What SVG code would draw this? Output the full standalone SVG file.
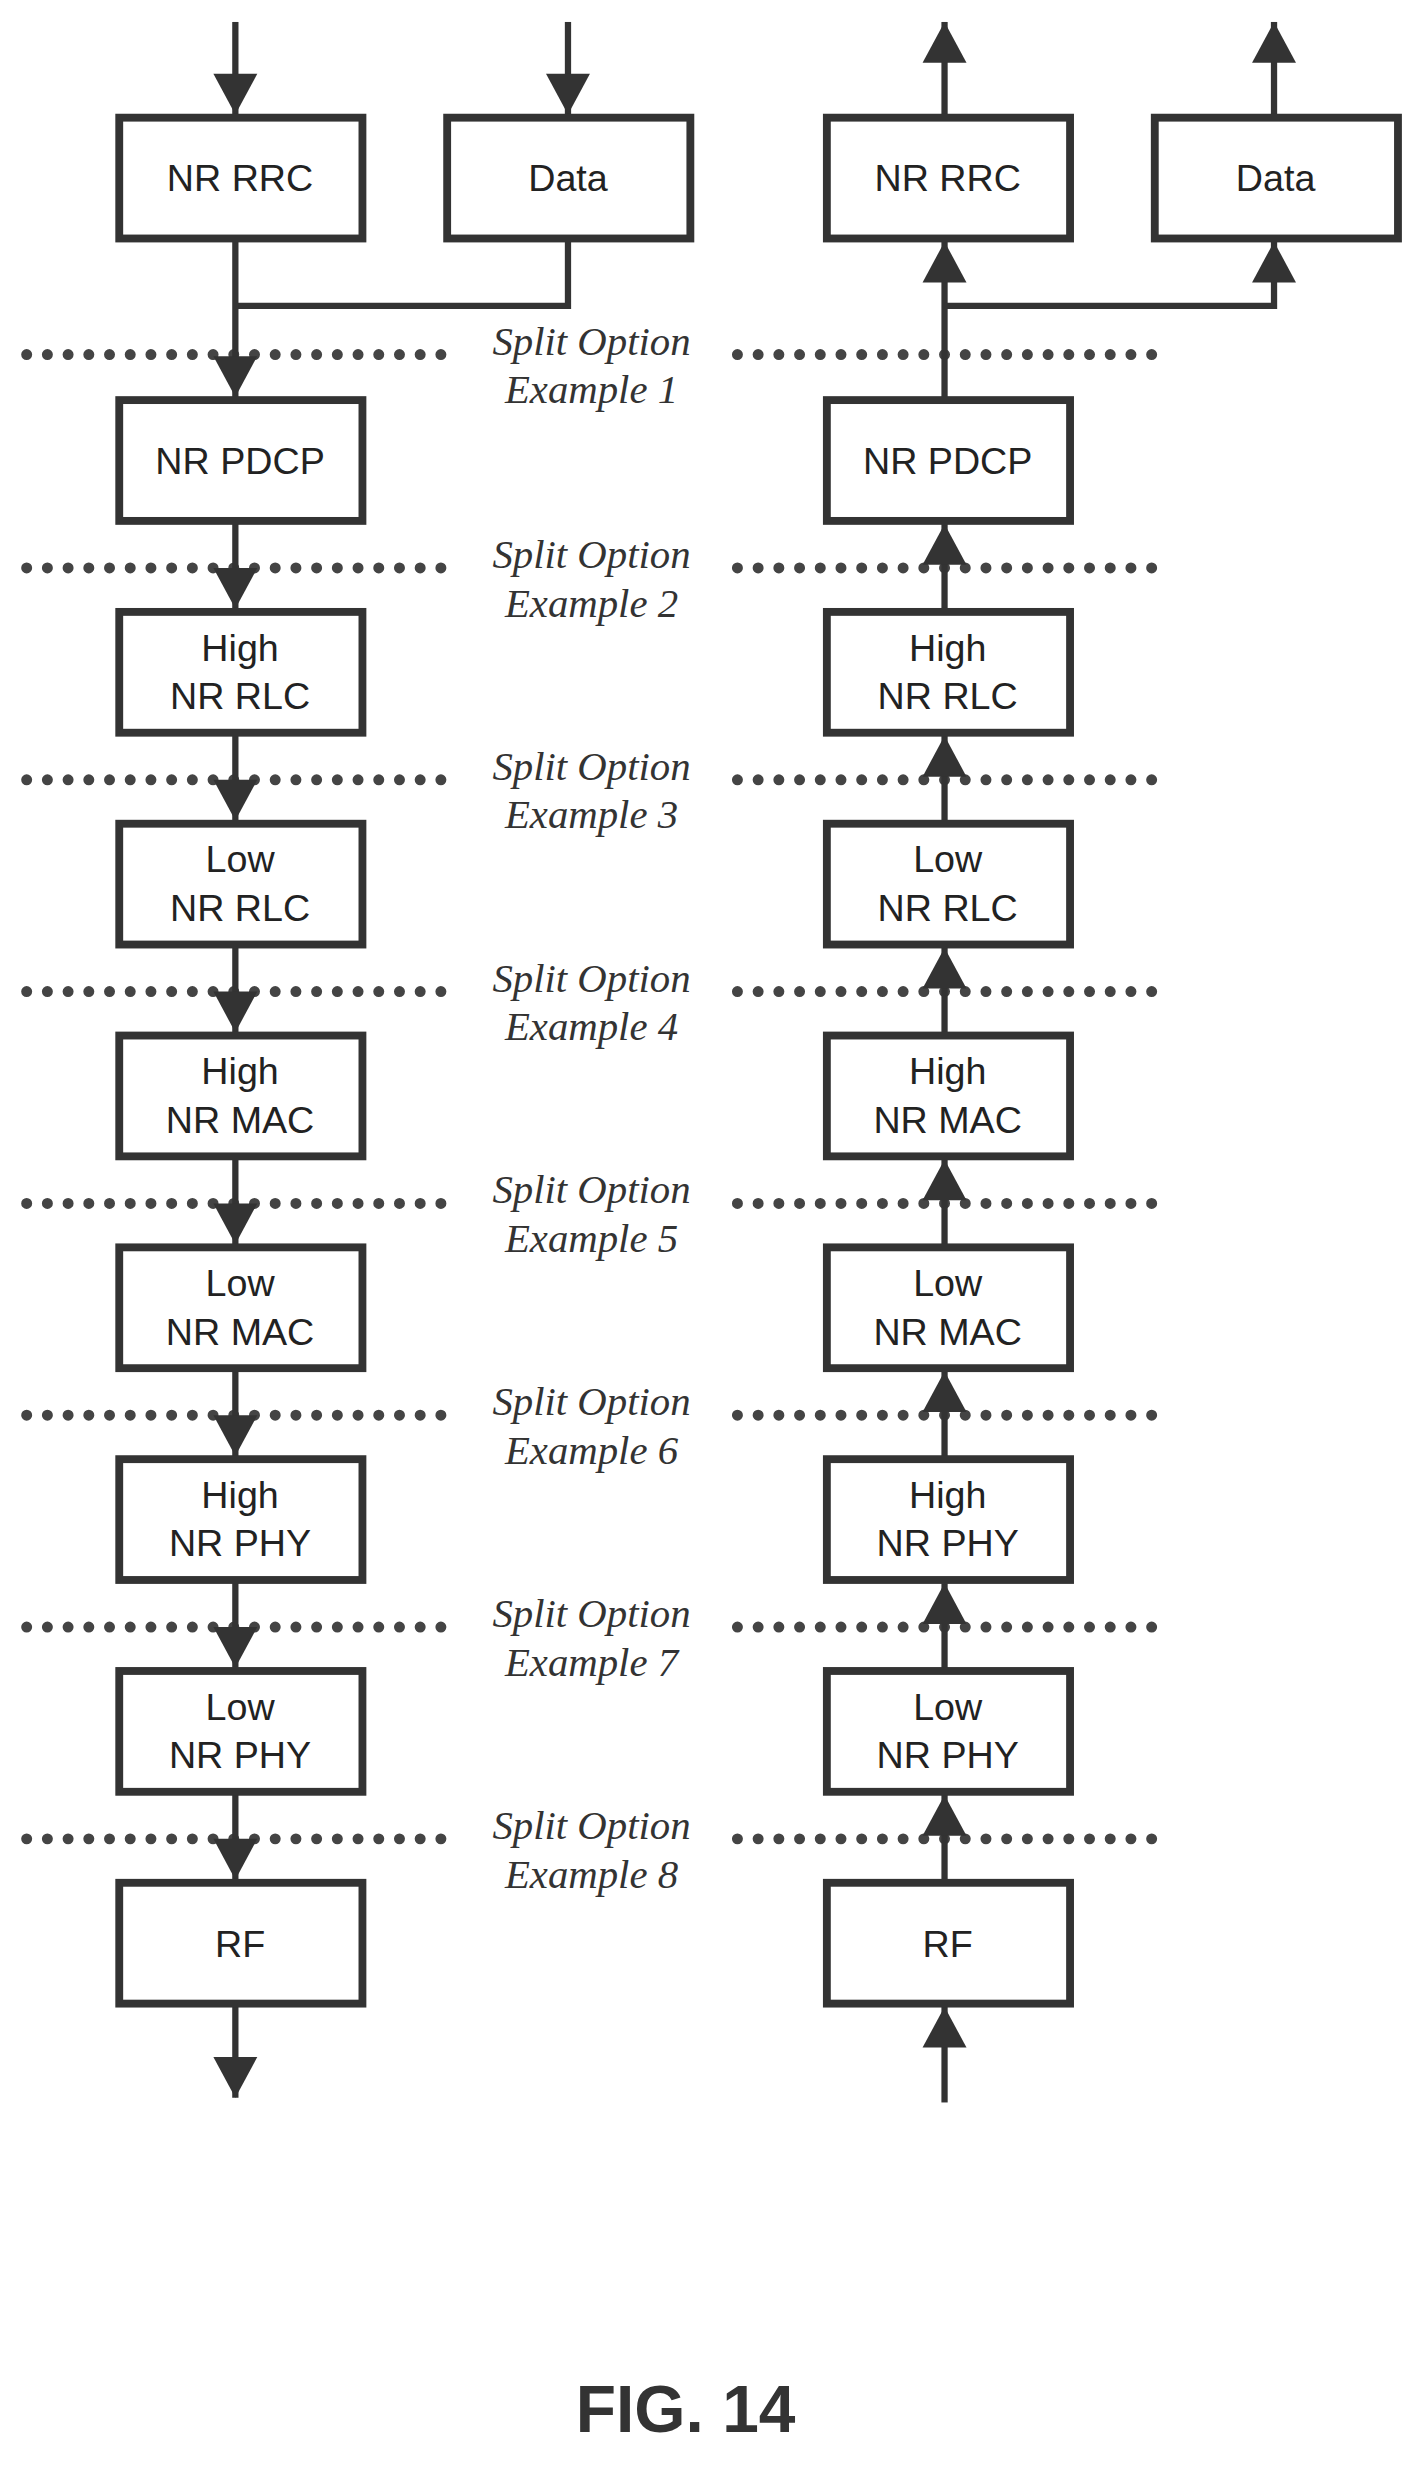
<svg xmlns="http://www.w3.org/2000/svg" width="1420" height="2466" viewBox="0 0 1420 2466">
<style>
.box{fill:#fff;stroke:#333;stroke-width:5}
.t{font-family:"Liberation Sans",Arial,sans-serif;font-size:24px;fill:#222;text-anchor:middle}
.s{font-family:"Liberation Serif","Times New Roman",serif;font-style:italic;font-size:26px;fill:#333;text-anchor:middle}
.w{fill:none;stroke:#333;stroke-width:4}
.d{fill:none;stroke:#444;stroke-width:7;stroke-dasharray:0 13.2;stroke-linecap:round}
</style>
<defs>
<marker id="a" markerUnits="userSpaceOnUse" markerWidth="18" markerHeight="28" viewBox="0 0 18 28" refX="18" refY="14" orient="auto" overflow="visible">
<path d="M0,0 L26,14 L0,28 Z" transform="translate(-8,0)" fill="#333"/>
</marker>
</defs>
<rect width="1420" height="2466" fill="#fff"/>
<g transform="scale(1.569)">
<g id="dotted">
<path class="d" d="M17,226H290M470,226H740"/>
<path class="d" d="M17,362H290M470,362H740"/>
<path class="d" d="M17,497H290M470,497H740"/>
<path class="d" d="M17,632H290M470,632H740"/>
<path class="d" d="M17,767H290M470,767H740"/>
<path class="d" d="M17,902H290M470,902H740"/>
<path class="d" d="M17,1037H290M470,1037H740"/>
<path class="d" d="M17,1172H290M470,1172H740"/>
</g>
<g id="labels">
<text class="s" x="377" y="226">Split Option</text><text class="s" x="377" y="257">Example 1</text>
<text class="s" x="377" y="362">Split Option</text><text class="s" x="377" y="393">Example 2</text>
<text class="s" x="377" y="497">Split Option</text><text class="s" x="377" y="528">Example 3</text>
<text class="s" x="377" y="632">Split Option</text><text class="s" x="377" y="663">Example 4</text>
<text class="s" x="377" y="767">Split Option</text><text class="s" x="377" y="798">Example 5</text>
<text class="s" x="377" y="902">Split Option</text><text class="s" x="377" y="933">Example 6</text>
<text class="s" x="377" y="1037">Split Option</text><text class="s" x="377" y="1068">Example 7</text>
<text class="s" x="377" y="1172">Split Option</text><text class="s" x="377" y="1203">Example 8</text>
</g>
<g id="connectors">
<path class="w" d="M150,14V73" marker-end="url(#a)"/>
<path class="w" d="M362,14V73" marker-end="url(#a)"/>
<path class="w" d="M362,152V195H150"/>
<path class="w" d="M150,152V253" marker-end="url(#a)"/>
<path class="w" d="M150,332V388" marker-end="url(#a)"/>
<path class="w" d="M150,467V523" marker-end="url(#a)"/>
<path class="w" d="M150,602V658" marker-end="url(#a)"/>
<path class="w" d="M150,737V793" marker-end="url(#a)"/>
<path class="w" d="M150,872V928" marker-end="url(#a)"/>
<path class="w" d="M150,1007V1063" marker-end="url(#a)"/>
<path class="w" d="M150,1142V1198" marker-end="url(#a)"/>
<path class="w" d="M150,1277V1337" marker-end="url(#a)"/>
<path class="w" d="M602,75V14" marker-end="url(#a)"/>
<path class="w" d="M812,75V14" marker-end="url(#a)"/>
<path class="w" d="M602,255V154" marker-end="url(#a)"/>
<path class="w" d="M602,195H812V154" marker-end="url(#a)"/>
<path class="w" d="M602,390V334" marker-end="url(#a)"/>
<path class="w" d="M602,525V469" marker-end="url(#a)"/>
<path class="w" d="M602,660V604" marker-end="url(#a)"/>
<path class="w" d="M602,795V739" marker-end="url(#a)"/>
<path class="w" d="M602,930V874" marker-end="url(#a)"/>
<path class="w" d="M602,1065V1009" marker-end="url(#a)"/>
<path class="w" d="M602,1200V1144" marker-end="url(#a)"/>
<path class="w" d="M602,1340V1279" marker-end="url(#a)"/>
</g>
<g id="l-rrc"><rect class="box" x="76" y="75" width="155" height="77"/><text class="t" x="153" y="122">NR RRC</text></g>
<g id="l-data"><rect class="box" x="285" y="75" width="155" height="77"/><text class="t" x="362" y="122">Data</text></g>
<g id="r-rrc"><rect class="box" x="527" y="75" width="155" height="77"/><text class="t" x="604" y="122">NR RRC</text></g>
<g id="r-data"><rect class="box" x="736" y="75" width="155" height="77"/><text class="t" x="813" y="122">Data</text></g>
<g id="l-pdcp"><rect class="box" x="76" y="255" width="155" height="77"/><text class="t" x="153" y="302">NR PDCP</text></g>
<g id="r-pdcp"><rect class="box" x="527" y="255" width="155" height="77"/><text class="t" x="604" y="302">NR PDCP</text></g>
<g id="l-hrlc"><rect class="box" x="76" y="390" width="155" height="77"/><text class="t" x="153" y="421">High</text><text class="t" x="153" y="452">NR RLC</text></g>
<g id="r-hrlc"><rect class="box" x="527" y="390" width="155" height="77"/><text class="t" x="604" y="421">High</text><text class="t" x="604" y="452">NR RLC</text></g>
<g id="l-lrlc"><rect class="box" x="76" y="525" width="155" height="77"/><text class="t" x="153" y="556">Low</text><text class="t" x="153" y="587">NR RLC</text></g>
<g id="r-lrlc"><rect class="box" x="527" y="525" width="155" height="77"/><text class="t" x="604" y="556">Low</text><text class="t" x="604" y="587">NR RLC</text></g>
<g id="l-hmac"><rect class="box" x="76" y="660" width="155" height="77"/><text class="t" x="153" y="691">High</text><text class="t" x="153" y="722">NR MAC</text></g>
<g id="r-hmac"><rect class="box" x="527" y="660" width="155" height="77"/><text class="t" x="604" y="691">High</text><text class="t" x="604" y="722">NR MAC</text></g>
<g id="l-lmac"><rect class="box" x="76" y="795" width="155" height="77"/><text class="t" x="153" y="826">Low</text><text class="t" x="153" y="857">NR MAC</text></g>
<g id="r-lmac"><rect class="box" x="527" y="795" width="155" height="77"/><text class="t" x="604" y="826">Low</text><text class="t" x="604" y="857">NR MAC</text></g>
<g id="l-hphy"><rect class="box" x="76" y="930" width="155" height="77"/><text class="t" x="153" y="961">High</text><text class="t" x="153" y="992">NR PHY</text></g>
<g id="r-hphy"><rect class="box" x="527" y="930" width="155" height="77"/><text class="t" x="604" y="961">High</text><text class="t" x="604" y="992">NR PHY</text></g>
<g id="l-lphy"><rect class="box" x="76" y="1065" width="155" height="77"/><text class="t" x="153" y="1096">Low</text><text class="t" x="153" y="1127">NR PHY</text></g>
<g id="r-lphy"><rect class="box" x="527" y="1065" width="155" height="77"/><text class="t" x="604" y="1096">Low</text><text class="t" x="604" y="1127">NR PHY</text></g>
<g id="l-rf"><rect class="box" x="76" y="1200" width="155" height="77"/><text class="t" x="153" y="1247">RF</text></g>
<g id="r-rf"><rect class="box" x="527" y="1200" width="155" height="77"/><text class="t" x="604" y="1247">RF</text></g>
<text x="437" y="1550" font-family="Liberation Sans,Arial,sans-serif" font-weight="bold" font-size="42" fill="#333" text-anchor="middle">FIG. 14</text>
</g>
</svg>
